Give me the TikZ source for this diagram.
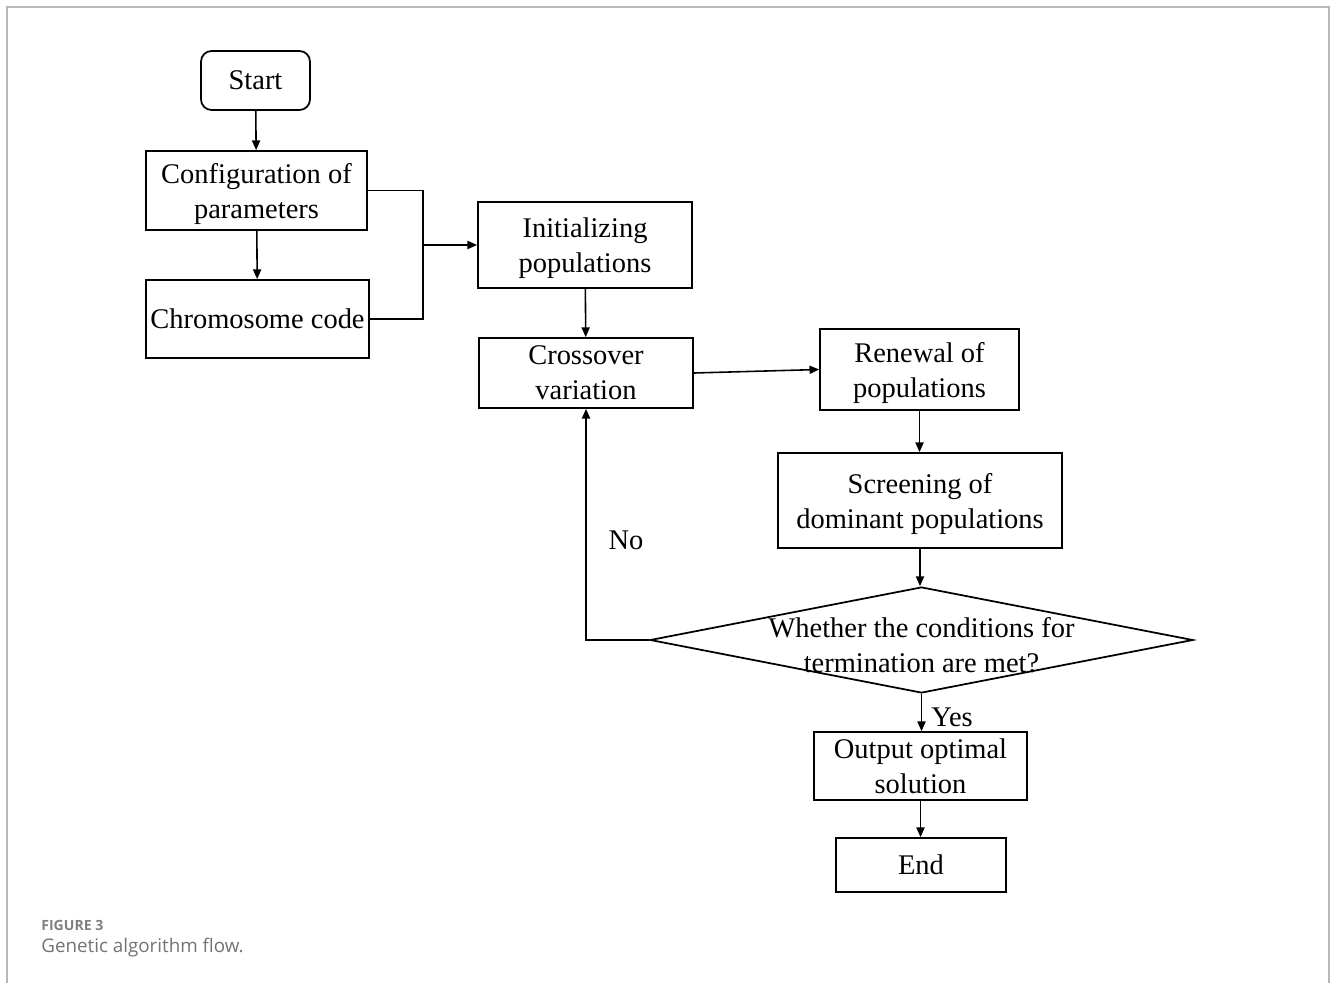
\documentclass[tikz,border=0pt]{standalone}
\usepackage{fontspec}
\setmainfont{Liberation Serif}
\newfontfamily\capfont{Open Sans}
\usetikzlibrary{arrows.meta,calc,positioning,shapes}

\tikzset{
  box/.style={draw,line width=1pt,inner sep=0pt,align=center,text depth=0pt,font=\fontsize{16.2}{19.9}\selectfont},
  flow/.style={line width=0.9pt,>={Triangle[length=5.5pt,width=4.6pt]}},
}

\begin{document}
\begin{tikzpicture}[x=0.02cm,y=-0.02cm]
      \useasboundingbox (0,0) rectangle (1331,983);
      \draw [black!28,line width=1pt] (7,983) -- (7,7) -- (1329,7) -- (1329,983);

      \node [box,rounded corners=6pt,minimum width=2.18cm,minimum height=1.18cm] (start) at (255.5,80.5) {Start};
        \node [box,minimum width=4.42cm,minimum height=1.58cm] (config) at (256.5,190.5) {Configuration of\\parameters};
        \node [box,minimum width=4.46cm,minimum height=1.56cm] (chromo) at (257.5,319) {Chromosome code};
      \node [box,minimum width=4.28cm,minimum height=1.72cm] (init) at (585,245) {Initializing\\populations};
      \node [box,minimum width=4.28cm,minimum height=1.40cm] (cross) at (586,373) {Crossover\\variation};
        \node [box,minimum width=3.98cm,minimum height=1.62cm] (renew) at (919.5,369.5) {Renewal of\\populations};
        \node [box,minimum width=5.68cm,minimum height=1.90cm] (screen) at (920,500.5) {Screening of\\dominant populations};
        \node [draw,line width=1pt,shape=diamond,inner sep=0pt,minimum width=10.86cm,minimum height=2.12cm,
          label={[font=\fontsize{16.2}{19.9}\selectfont,align=center,yshift=-3pt]center:Whether the conditions for\\termination are met?}] (cond) at (921.5,640) {};
        \node [box,minimum width=4.26cm,minimum height=1.36cm] (output) at (920.5,766) {Output optimal\\solution};
        \node [box,minimum width=3.40cm,minimum height=1.08cm] (end) at (921,865) {End};

      \coordinate (merge) at (423,245);
      \draw [flow] [->] (start) -- (config);
      \draw [flow] [->] (config) -- (chromo);
      \draw [flow] (config.east) -| (merge);
      \draw [flow] (chromo.east) -| (merge);
      \draw [flow] [->] (merge) -- (init.west |- merge);
      \draw [flow] [->] (init) -- (cross);
      \draw [flow] [->] (cross.east) -- (renew.west);
      \draw [flow] [->] (renew.south) -- (renew.south |- screen.north);
      \draw [flow] [->] (screen.south) -- (screen.south |- cond.north);
      \draw [flow] [->] (cond.west) -| (cross.south);
      \draw [flow] [->] (cond.south) -- (cond.south |- output.north);
      \draw [flow] [->] (output.south) -- (output.south |- end.north);

      \node [font=\fontsize{16.2}{19.9}\selectfont] (no) at (626,540) {No};
      \node [font=\fontsize{16.2}{19.9}\selectfont] (yes) at (952,717) {Yes};

      \node [anchor=west,inner sep=0pt,text=black!50,font=\capfont\bfseries\fontsize{8}{9}\selectfont] (fig) at (41,925) {FIGURE 3};
      \node [anchor=west,inner sep=0pt,text=black!55,font=\capfont\fontsize{10.7}{12}\selectfont] (capt) at (41,948) {Genetic algorithm flow.};
    \end{tikzpicture}
\end{document}
